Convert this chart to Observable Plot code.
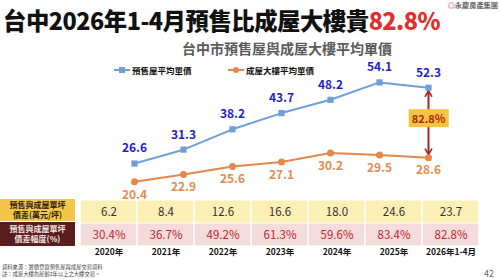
<!DOCTYPE html>
<html>
<head>
<meta charset="utf-8">
<script src="https://cdn.jsdelivr.net/npm/d3@7"></script>
<script src="https://cdn.jsdelivr.net/npm/@observablehq/plot@0.6"></script>
<style>
  body { margin: 0; background: #fff; font-family: "Noto Sans CJK TC", "Noto Sans", sans-serif; }
  #page { position: relative; width: 500px; height: 279px; overflow: hidden; background: #fff; }
  .abs { position: absolute; }
  #title { left: 3px; top: 8px; font-size: 23.4px; line-height: 24px; font-weight: 900; color: #111; white-space: nowrap; letter-spacing: -0.5px; }
  #title .hl { color: #e0302a; }
  #logo { right: 2px; top: 1px; font-size: 7.2px; line-height: 8px; font-weight: 700; color: #666; white-space: nowrap; }
  #logo .mk { color: #d8332b; }
  #subtitle { left: 0; width: 574px; top: 38px; text-align: center; font-size: 14px; font-weight: 700; color: #5a5a5a; white-space: nowrap; }
  .legend { top: 64px; height: 12px; display: flex; align-items: center; font-size: 8.5px; font-weight: 700; color: #111; white-space: nowrap; }
  .legend svg { margin-right: 2px; }
  .rowhead { left: 0; width: 75px; display: flex; align-items: center; justify-content: center; text-align: center; font-size: 8px; font-weight: 700; line-height: 10px; }
  #foot { left: 2px; top: 264px; font-size: 5.3px; line-height: 6.5px; color: #444; white-space: nowrap; }
  #pageno { right: 6px; top: 267px; font-size: 9px; color: #666; }
  .plotbox { position: absolute; left: 0; }
</style>
</head>
<body>
<div id="page">
  <div id="title" class="abs">台中2026年1-4月預售比成屋大樓貴<span class="hl">82.8%</span></div>
  <div id="logo" class="abs"><span class="mk">◎</span>永慶房產集團</div>
  <div id="subtitle" class="abs">台中市預售屋與成屋大樓平均單價</div>
  <div class="abs legend" style="left:114px">
    <svg width="16" height="8"><line x1="0" y1="4" x2="16" y2="4" stroke="#6e9fd8" stroke-width="2"/><rect x="5" y="1" width="6" height="6" fill="#6e9fd8"/></svg>預售屋平均單價
  </div>
  <div class="abs legend" style="left:228px">
    <svg width="16" height="8"><line x1="0" y1="4" x2="16" y2="4" stroke="#e3874a" stroke-width="2"/><circle cx="8" cy="4" r="3" fill="#e3874a"/></svg>成屋大樓平均單價
  </div>
  <div id="chart" class="plotbox" style="top:58px"></div>
  <div class="abs rowhead" style="top:199px;height:22px;background:#f3c64a;color:#2b2110">預售與成屋單坪<br>價差(萬元/坪)</div>
  <div class="abs rowhead" style="top:222px;height:24px;background:#5a1d1d;color:#f3e4e4">預售與成屋單坪<br>價差幅度(%)</div>
  <div id="table" class="plotbox" style="top:198px"></div>
  <div id="foot" class="abs">資料來源：實價登錄預售屋與成屋交易資料<br>註：成屋大樓為屋齡2年以上之大樓交易。</div>
  <div id="pageno" class="abs">42</div>
</div>
<script>
// Average price per ping (萬元/坪) in Taichung
const years = ["2020年", "2021年", "2022年", "2023年", "2024年", "2025年", "2026年1-4月"];
const presale = [26.6, 31.3, 38.2, 43.7, 48.2, 54.1, 52.3];
const resale = [20.4, 22.9, 25.6, 27.1, 30.2, 29.5, 28.6];
// Table rows: price gap and gap ratio
const priceGap = [6.2, 8.4, 12.6, 16.6, 18.0, 24.6, 23.7];
const gapPct = [30.4, 36.7, 49.2, 61.3, 59.6, 83.4, 82.8];
const rowKeys = ["gap", "pct"];

const BLUE = "#6e9fd8";
const ORANGE = "#e3874a";
const ARROW = "#a82626";
const FONT = '"Noto Sans CJK TC", "Noto Sans", sans-serif';

const pts = years.map((year, i) => ({year, presale: presale[i], resale: resale[i]}));
const last = pts[pts.length - 1];
const lastPct = gapPct[gapPct.length - 1].toFixed(1) + "%";

const chart = Plot.plot({
  width: 500,
  height: 140,
  margin: 0,
  x: {type: "point", domain: years, range: [107.8, 453.2], axis: null},
  y: {domain: [15, 60], range: [139.25, 6.5], axis: null},
  style: {fontFamily: FONT, overflow: "visible", background: "transparent"},
  marks: [
    Plot.line(pts, {x: "year", y: "resale", stroke: ORANGE, strokeWidth: 2}),
    Plot.line(pts, {x: "year", y: "presale", stroke: BLUE, strokeWidth: 2}),
    Plot.arrow([last], {x1: "year", x2: "year", y1: "presale", y2: "resale", stroke: ARROW, strokeWidth: 1.6, headLength: 6, insetStart: 3, insetEnd: 3}),
    Plot.arrow([last], {x1: "year", x2: "year", y1: "resale", y2: "presale", stroke: ARROW, strokeWidth: 1.6, headLength: 6, insetStart: 3, insetEnd: 3}),
    Plot.dot(pts, {x: "year", y: "resale", r: 3.5, fill: ORANGE}),
    Plot.dot(pts, {x: "year", y: "presale", symbol: "square", r: 3.5, fill: BLUE}),
    Plot.text(pts, {x: "year", y: "presale", text: d => d.presale.toFixed(1), dy: -15, fill: "#1f1fcf", fontWeight: "bold", fontSize: 12}),
    Plot.text(pts, {x: "year", y: "resale", text: d => d.resale.toFixed(1), dy: 13, fill: "#e48c50", fontWeight: "bold", fontSize: 12}),
    Plot.text([last], {x: "year", y: d => (d.presale + d.resale) / 2, dy: -3, text: () => lastPct, fill: "#b0231c", fontWeight: "bold", fontSize: 11})
  ]
});
document.getElementById("chart").appendChild(chart);

// gold badge behind the gap label on the arrow
for (const t of chart.querySelectorAll("text")) {
  if (t.textContent === lastPct) {
    const b = t.getBBox();
    const r = document.createElementNS("http://www.w3.org/2000/svg", "rect");
    r.setAttribute("x", b.x - 3);
    r.setAttribute("y", b.y - 1);
    r.setAttribute("width", b.width + 6);
    r.setAttribute("height", b.height + 2);
    r.setAttribute("fill", "#f5c342");
    if (t.getAttribute("transform")) r.setAttribute("transform", t.getAttribute("transform"));
    t.parentNode.insertBefore(r, t);
  }
}

const cells = years.flatMap((year, i) => [
  {year, row: rowKeys[0], label: priceGap[i].toFixed(1)},
  {year, row: rowKeys[1], label: gapPct[i].toFixed(1) + "%"}
]);

const table = Plot.plot({
  width: 500,
  height: 64,
  marginTop: 0,
  marginBottom: 16,
  marginLeft: 0,
  marginRight: 0,
  x: {type: "band", domain: years, range: [77, 482], padding: 0, axis: null},
  y: {type: "band", domain: rowKeys, range: [1, 48], padding: 0, axis: null},
  style: {fontFamily: FONT, overflow: "visible", background: "transparent"},
  marks: [
    Plot.cell(cells, {x: "year", y: "row", fill: d => d.row === rowKeys[0] ? "#fcefb6" : "#f4dcdc", insetLeft: 0.75, insetRight: 0.75, insetTop: 0.5, insetBottom: 0.5}),
    Plot.text(cells, {x: "year", y: "row", text: "label",
      fill: d => d.row === rowKeys[0] ? "#333" : "#c4212a",
      fontWeight: d => d.row === rowKeys[0] ? 600 : 800, fontSize: 11.5}),
    Plot.text(years, {x: d => d, frameAnchor: "bottom", dy: 8, text: d => d, fill: "#111", fontWeight: "bold", fontSize: 8.5})
  ]
});
document.getElementById("table").appendChild(table);
</script>
</body>
</html>
